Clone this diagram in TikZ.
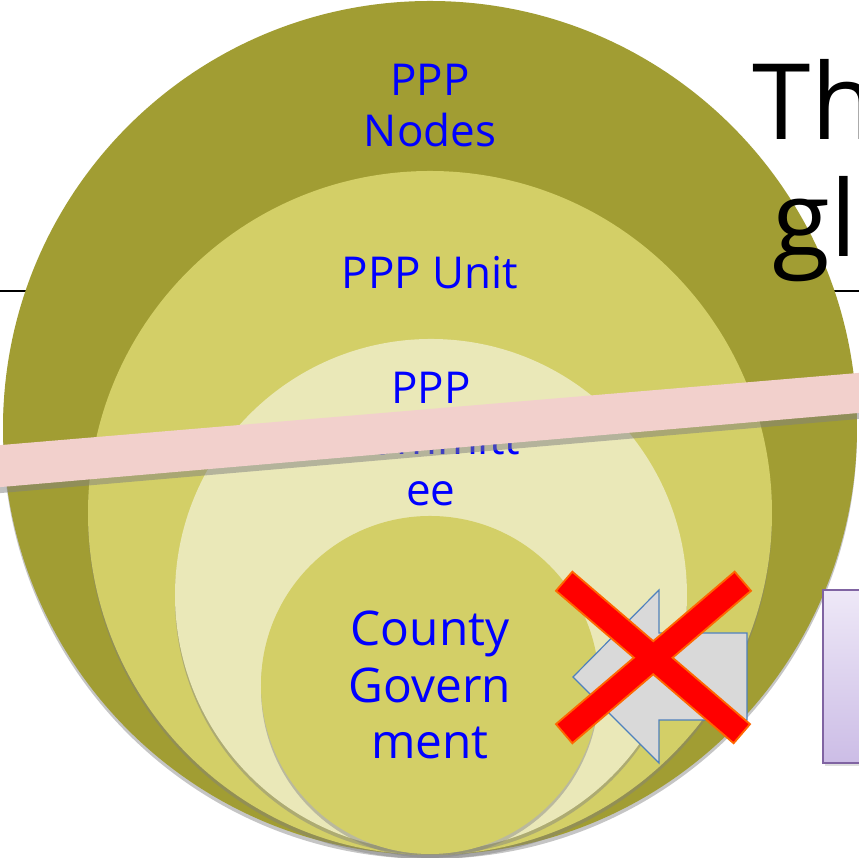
\documentclass[tikz,border=0pt]{standalone}
\usepackage{fontspec}
\setmainfont{Open Sans}
\usetikzlibrary{positioning}
\usetikzlibrary{shadows}
\definecolor{olivedark}{RGB}{161,157,51}
\definecolor{olivemid}{RGB}{211,207,103}
\definecolor{olivelight}{RGB}{234,232,184}
\definecolor{bandpink}{RGB}{242,208,204}
\definecolor{boxpurple}{RGB}{128,100,162}
\definecolor{boxtop}{RGB}{238,232,247}
\definecolor{boxbottom}{RGB}{204,189,230}
\definecolor{arrowgray}{RGB}{217,217,217}
\definecolor{arrowblue}{RGB}{79,129,189}
\definecolor{crossorange}{RGB}{255,102,0}
\tikzstyle{ring} = [circle, inner sep=0pt, outer sep=0pt, drop shadow={shadow xshift=0pt, shadow yshift=-0.04cm, opacity=0.45}]
\tikzstyle{lbl} = [text=blue, align=center, inner sep=0pt, font=\fontsize{12.5}{14.5}\selectfont]
\tikzstyle{biglbl} = [text=blue, align=center, inner sep=0pt, font=\fontsize{13.6}{16.2}\selectfont]
\tikzstyle{bigtitle} = [inner sep=0pt, anchor=base west, font=\fontsize{30}{36}\selectfont]
\tikzstyle{crossrim} = [line width=0.27cm, crossorange, shorten <=-0.02cm, shorten >=-0.02cm]
\tikzstyle{crossbar} = [line width=0.23cm, red]

\begin{document}
\begin{tikzpicture}
    \fill[white] (0,0) rectangle (8.59,8.58);
    \useasboundingbox (0,0) rectangle (8.59,8.58);
    \clip (0,0) rectangle (8.59,8.58);
    \draw[line width=0.02cm] (0,5.67) -- (8.59,5.67);
    %
    \node(outer)[ring, fill=olivedark, minimum size=8.54cm] at (4.30,4.30) {};
    \node(unit)[ring, fill=olivemid, minimum size=6.84cm] at (4.30,3.45) {};
    \node(committee)[ring, fill=olivelight, minimum size=5.12cm] at (4.31,2.63) {};
    \node(county)[ring, fill=olivemid, minimum size=3.38cm] at (4.30,1.73) {};
    %
    \node(nodeslbl)[lbl, below=1.05cm of outer.north, anchor=center] {PPP\\Nodes};
    \node(unitlbl)[lbl, below=1.02cm of unit.north, anchor=center] {PPP Unit};
    \node(committeelbl)[lbl, below=1.0cm of committee.north, anchor=center] {PPP\\Committ\\ee};
    \node(countylbl)[biglbl] at (county) {County\\Govern\\ment};
    %
    \node(titleone)[bigtitle] at (7.52,7.18) {Th};
    \node(titletwo)[bigtitle] at (7.72,6.01) {gl};
    %
    \node(panel)[draw=boxpurple, line width=0.015cm, top color=boxtop, bottom color=boxbottom, minimum width=0.77cm, minimum height=1.73cm, drop shadow={shadow xshift=0.02cm, shadow yshift=-0.03cm, opacity=0.25}] at (8.615,1.815) {};
    \filldraw[fill=arrowgray, draw=arrowblue, line width=0.012cm] (5.73,1.81) -- (6.59,2.68) -- (6.59,2.25) -- (7.47,2.25) -- (7.47,1.38) -- (6.59,1.38) -- (6.59,0.95) -- cycle;
    %
    \coordinate(xa) at (5.65,2.76);
    \coordinate(xb) at (7.41,1.25);
    \coordinate(xc) at (5.65,1.25);
    \coordinate(xd) at (7.42,2.76);
    \draw[crossrim] (xa) -- (xb);
    \draw[crossrim] (xc) -- (xd);
    \draw[crossbar] (xa) -- (xb);
    \draw[crossbar] (xc) -- (xd);
    %
    \fill[bandpink, drop shadow={shadow xshift=0pt, shadow yshift=-0.06cm, opacity=0.5}] (-0.1,3.70) -- (-0.1,4.12) -- (8.7,4.86) -- (8.7,4.46) -- cycle;
\end{tikzpicture}
\end{document}
